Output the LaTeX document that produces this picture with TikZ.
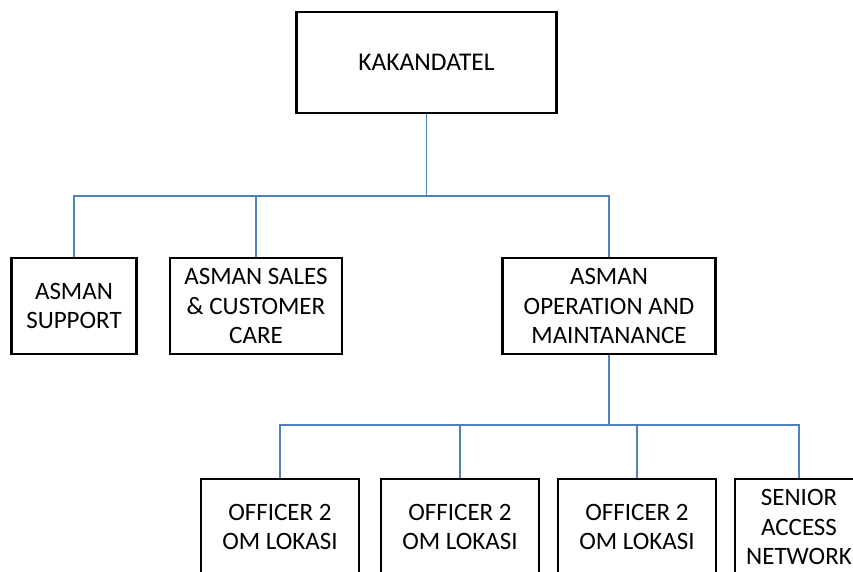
\documentclass[tikz,border=0pt]{standalone}
\usepackage{fontspec}
\setmainfont{Carlito}
\usepackage{tikz}
\usetikzlibrary{positioning,calc}
\definecolor{linkblue}{RGB}{79,129,189}

\begin{document}
\begin{tikzpicture}[
  x=1pt, y=-1pt,
  box/.style={draw, line width=2.6pt, fill=white, inner sep=0pt,
              minimum height=96pt, align=center,
              font=\fontsize{25}{29.5}\selectfont},
  topbox/.style={box, minimum width=260pt, minimum height=101pt,
                 font=\fontsize{25.5}{29.5}\selectfont},
  link/.style={draw, line width=1.3pt, linkblue}
]
\useasboundingbox (0,0) rectangle (853,572);
\clip (0,0) rectangle (853,572);

\node[topbox] (kakandatel) at (426.5,62.5) {KAKANDATEL};
\node[box, minimum width=125pt] (support) at (74,306) {ASMAN\\SUPPORT};
\node[box, minimum width=172pt] (sales) at (256,306) {ASMAN SALES\\\& CUSTOMER\\CARE};
\node[box, minimum width=213pt] (operation) at (609,306) {ASMAN\\OPERATION AND\\MAINTANANCE};
\node[box, minimum width=158pt] (officerA) at (280,527) {OFFICER 2\\OM LOKASI};
\node[box, minimum width=158pt] (officerB) at (460,527) {OFFICER 2\\OM LOKASI};
\node[box, minimum width=158pt] (officerC) at (637,527) {OFFICER 2\\OM LOKASI};
\node[box, minimum width=128pt] (senior) at (799,527) {SENIOR\\ACCESS\\NETWORK};

% bus lines of the chart
\coordinate (busTop) at (426.5,196);
\coordinate (busLow) at (609,425);

\draw[link] (kakandatel.south) -- (busTop);
\draw[link] (busTop) -| (support.north);
\draw[link] (busTop) -| (sales.north);
\draw[link] (busTop) -| (operation.north);

\draw[link] (operation.south) -- (busLow);
\draw[link] (busLow) -| (officerA.north);
\draw[link] (busLow) -| (officerB.north);
\draw[link] (busLow) -| (officerC.north);
\draw[link] (busLow) -| (senior.north);
\end{tikzpicture}
\end{document}
